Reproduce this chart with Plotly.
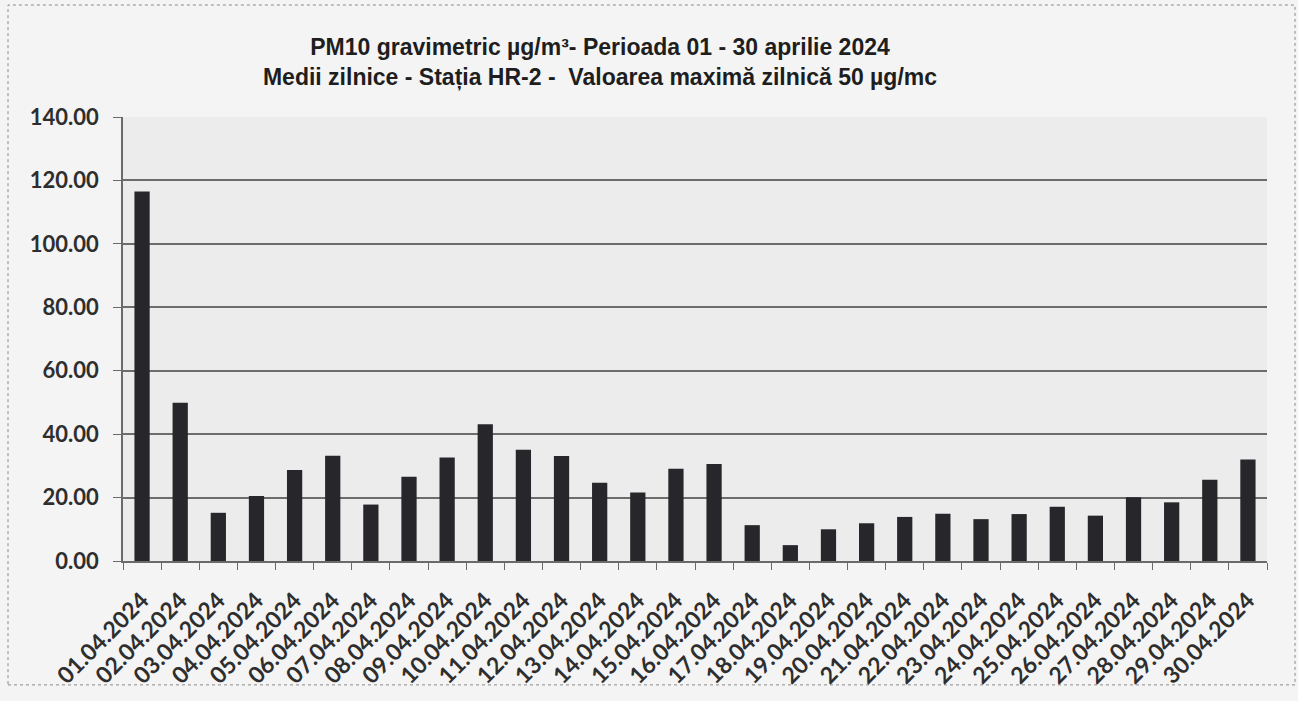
import plotly.graph_objects as go

dates = ["01.04.2024", "02.04.2024", "03.04.2024", "04.04.2024", "05.04.2024",
         "06.04.2024", "07.04.2024", "08.04.2024", "09.04.2024", "10.04.2024",
         "11.04.2024", "12.04.2024", "13.04.2024", "14.04.2024", "15.04.2024",
         "16.04.2024", "17.04.2024", "18.04.2024", "19.04.2024", "20.04.2024",
         "21.04.2024", "22.04.2024", "23.04.2024", "24.04.2024", "25.04.2024",
         "26.04.2024", "27.04.2024", "28.04.2024", "29.04.2024", "30.04.2024"]

pm10 = [116.5, 49.9, 15.2, 20.5, 28.7, 33.2, 17.8, 26.6, 32.6, 43.1,
        35.1, 33.1, 24.7, 21.6, 29.1, 30.6, 11.3, 5.0, 10.0, 11.9,
        13.9, 14.9, 13.2, 14.8, 17.1, 14.3, 20.1, 18.5, 25.6, 32.0]

y_ticks = [0, 20, 40, 60, 80, 100, 120, 140]

title_l1 = "PM10 gravimetric µg/m³- Perioada 01 - 30 aprilie 2024"
title_l2 = "Medii zilnice - Stația HR-2 -  Valoarea maximă zilnică 50 µg/mc"

ytick_font = dict(family="Lato, 'Open Sans', sans-serif", size=22, color="#2e2e2e", weight="bold")
xtick_font = dict(family="Lato, 'Open Sans', sans-serif", size=23, color="#2e2e2e", weight="bold")

fig = go.Figure()
fig.add_trace(go.Bar(
    x=dates, y=pm10,
    marker=dict(color="#27272b", line=dict(width=0)),
    hoverinfo="x+y",
))

fig.update_layout(
    width=1298, height=701,
    margin=dict(l=123, r=31, t=117, b=136),
    paper_bgcolor="#f4f4f4",
    plot_bgcolor="#ececec",
    bargap=0.6,
    showlegend=False,
    title=dict(
        text=title_l1 + "<br>" + title_l2,
        font=dict(family="'Liberation Sans Narrow', 'Arial Narrow', 'Liberation Sans', Arial, sans-serif",
                  size=23, color="#1e1e1e", weight="bold"),
        xref="container", x=600 / 1298, xanchor="center",
        yref="container", y=1 - 55 / 701, yanchor="top",
    ),
    xaxis=dict(
        type="category",
        tickangle=-45,
        tickfont=xtick_font,
        ticks="outside", ticklen=7, tickcolor="#6a6a6a", tickwidth=1,
        tickson="boundaries",
        ticklabelstandoff=15,
        showline=True, linecolor="#6a6a6a", linewidth=1.5,
        showgrid=False,
    ),
    yaxis=dict(
        range=[0, 140],
        tickvals=y_ticks,
        tickformat=".2f",
        tickfont=ytick_font,
        ticks="outside", ticklen=8, tickcolor="#6a6a6a", tickwidth=1,
        ticklabelstandoff=10,
        showline=True, linecolor="#6a6a6a", linewidth=1.5,
        showgrid=True, gridcolor="#6c6c6c", gridwidth=1.5,
        zeroline=False,
    ),
    shapes=[dict(
        type="rect", xref="paper", yref="paper",
        x0=(8 - 123) / 1144, x1=(1295 - 123) / 1144,
        y0=(565 - 690) / 448, y1=(565 - 4) / 448,
        line=dict(color="#8a8a8a", width=1, dash="dot"),
        layer="below",
    )],
)

fig.write_html("out.html", config={"displayModeBar": False},
               post_script="document.body.style.margin='0';")
